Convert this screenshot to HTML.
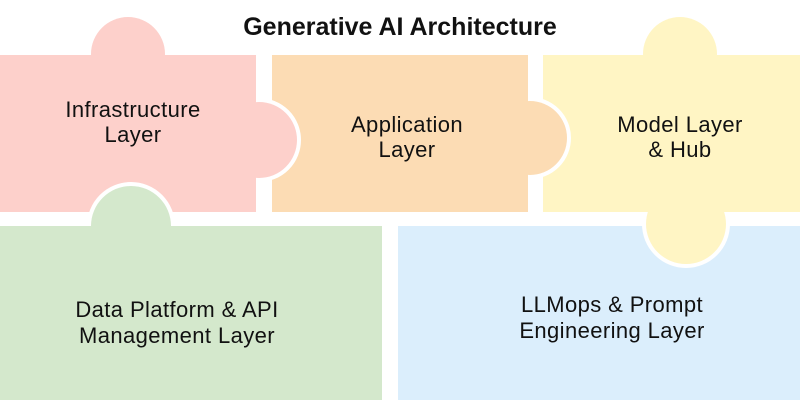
<!DOCTYPE html>
<html><head><style>
html,body{margin:0;padding:0;background:#fff;}
svg{display:block;font-family:"Liberation Sans",sans-serif;}
</style></head><body>
<svg width="800" height="400" viewBox="0 0 800 400" xmlns="http://www.w3.org/2000/svg">
<defs>
<clipPath id="cp1"><rect x="256" y="0" width="100" height="400"/></clipPath>
<clipPath id="cp2"><rect x="528" y="0" width="100" height="400"/></clipPath>
<clipPath id="cp3"><rect x="0" y="0" width="400" height="226"/></clipPath>
<clipPath id="cp4"><rect x="500" y="212" width="300" height="188"/></clipPath>
</defs>
<rect width="800" height="400" fill="#fff"/>
<circle cx="128" cy="54" r="37" fill="#fdd0cb"/>
<rect x="0" y="55" width="256" height="157" fill="#fdd0cb"/>
<rect x="272" y="55" width="256" height="157" fill="#fcdcb4"/>
<circle cx="680" cy="54" r="37" fill="#fff5c4"/>
<rect x="543" y="55" width="257" height="157" fill="#fff5c4"/>
<circle cx="259" cy="140" r="38" fill="#fdd0cb" stroke="#fff" stroke-width="8" clip-path="url(#cp1)"/>
<circle cx="259" cy="140" r="38" fill="#fdd0cb"/>
<circle cx="530" cy="138" r="37" fill="#fcdcb4" stroke="#fff" stroke-width="8" clip-path="url(#cp2)"/>
<circle cx="530" cy="138" r="37" fill="#fcdcb4"/>
<rect x="0" y="226" width="382" height="174" fill="#d4e8cc"/>
<circle cx="131" cy="226" r="40" fill="#d4e8cc" stroke="#fff" stroke-width="8" clip-path="url(#cp3)"/>
<circle cx="131" cy="226" r="40" fill="#d4e8cc"/>
<rect x="398" y="226" width="402" height="174" fill="#dbeefc"/>
<circle cx="686" cy="224" r="40" fill="#fff5c4" stroke="#fff" stroke-width="8" clip-path="url(#cp4)"/>
<circle cx="686" cy="224" r="40" fill="#fff5c4"/>
<g fill="#111" text-anchor="middle" font-size="22" letter-spacing="0.4">
<text x="400" y="35" font-size="25" font-weight="bold" letter-spacing="0">Generative AI Architecture</text>
<text x="133" y="117" >Infrastructure</text>
<text x="133" y="142">Layer</text>
<text x="407" y="132">Application</text>
<text x="407" y="157">Layer</text>
<text x="680" y="132">Model Layer</text>
<text x="680" y="157">&amp; Hub</text>
<text x="177" y="317">Data Platform &amp; API</text>
<text x="177" y="343">Management Layer</text>
<text x="612" y="312">LLMops &amp; Prompt</text>
<text x="612" y="338">Engineering Layer</text>
</g>
</svg>
</body></html>
